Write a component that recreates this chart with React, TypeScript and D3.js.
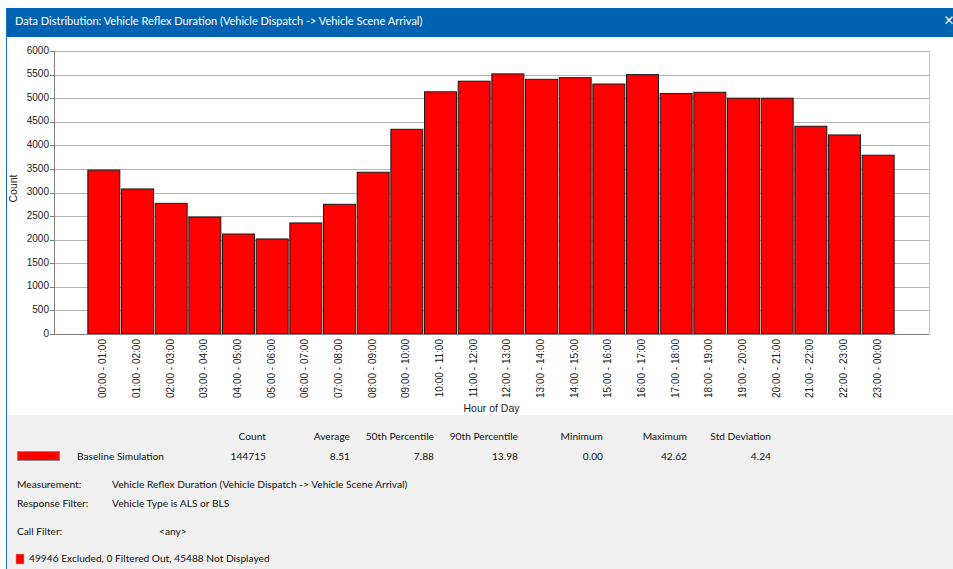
import React from "react";
import * as d3 from "d3";

const hours: string[] = [
  "00:00 - 01:00", "01:00 - 02:00", "02:00 - 03:00", "03:00 - 04:00",
  "04:00 - 05:00", "05:00 - 06:00", "06:00 - 07:00", "07:00 - 08:00",
  "08:00 - 09:00", "09:00 - 10:00", "10:00 - 11:00", "11:00 - 12:00",
  "12:00 - 13:00", "13:00 - 14:00", "14:00 - 15:00", "15:00 - 16:00",
  "16:00 - 17:00", "17:00 - 18:00", "18:00 - 19:00", "19:00 - 20:00",
  "20:00 - 21:00", "21:00 - 22:00", "22:00 - 23:00", "23:00 - 00:00",
];
const counts: number[] = [
  3475, 3075, 2770, 2480, 2120, 2015, 2355, 2750, 3430, 4340, 5135, 5360,
  5515, 5400, 5435, 5300, 5500, 5100, 5125, 5000, 5000, 4405, 4220, 3790,
];
const yTicks: number[] = d3.range(0, 6001, 500);

const statHeaders: string[] = ["Count", "Average", "50th Percentile", "90th Percentile", "Minimum", "Maximum", "Std Deviation"];
const statValues: string[] = ["144715", "8.51", "7.88", "13.98", "0.00", "42.62", "4.24"];
const statRightX: number[] = [266, 350, 434, 518, 603, 687, 771];

const titleText = "Data Distribution: Vehicle Reflex Duration (Vehicle Dispatch -> Vehicle Scene Arrival)";
const seriesName = "Baseline Simulation";
const infoRows: [string, string, number][] = [
  ["Measurement:", "Vehicle Reflex Duration (Vehicle Dispatch -> Vehicle Scene Arrival)", 112],
  ["Response Filter:", "Vehicle Type is ALS or BLS", 112],
  ["Call Filter:", "<any>", 159],
];
const footerText = "49946 Excluded, 0 Filtered Out, 45488 Not Displayed";

const W = 953, H = 569;
const plot = { left: 54, right: 929, top: 51, bottom: 334 };
const uiFont = "Lato, 'Noto Sans', sans-serif";
const axFont = "'Liberation Sans', Arial, sans-serif";
const uiSize = 10.2;

export default function App() {
  const y = d3.scaleLinear().domain([0, 6000]).range([plot.bottom, plot.top]);
  const x = d3
    .scaleBand<string>()
    .domain(hours)
    .range([87, 895])
    .paddingInner(0.05)
    .paddingOuter(0.025);

  const infoY = [485, 504, 532];

  return (
    <svg
      width={W}
      height={H}
      style={{ position: "fixed", left: 0, top: 0, display: "block" }}
    >
      <rect x={0} y={0} width={W} height={H} fill="#ffffff" />
      {/* window frame */}
      <rect x={6} y={8} width={W - 6} height={29} fill="#0063b1" />
      <line x1={6.5} y1={8} x2={6.5} y2={H} stroke="#1a73c0" strokeWidth={1} />
      <text x={15} y={22.5} fill="#ffffff" fontFamily={uiFont} fontSize={11} dominantBaseline="middle">
        {titleText}
      </text>
      <text x={949} y={22} fill="#ffffff" fontFamily={uiFont} fontSize={17} textAnchor="middle" dominantBaseline="middle">
        ×
      </text>

      {/* lower panel */}
      <rect x={7} y={415} width={W - 7} height={H - 415} fill="#f0f0f0" />

      {/* gridlines */}
      {yTicks.map((t) => (
        <line key={"g" + t} x1={plot.left} x2={plot.right} y1={Math.round(y(t)) + 0.5} y2={Math.round(y(t)) + 0.5} stroke="#b4b4b4" strokeWidth={1} />
      ))}
      <line x1={plot.right + 0.5} x2={plot.right + 0.5} y1={plot.top} y2={plot.bottom} stroke="#c8c8c8" />

      {/* bars */}
      {hours.map((h, i) => (
        <rect
          key={h}
          x={x(h)!}
          y={y(counts[i])}
          width={x.bandwidth()}
          height={y(0) - y(counts[i])}
          fill="#ff0000"
          stroke="#1a1a1a"
          strokeWidth={1}
        />
      ))}

      {/* axes */}
      <line x1={plot.left + 0.5} x2={plot.left + 0.5} y1={plot.top} y2={plot.bottom + 1} stroke="#808080" />
      <line x1={plot.left - 4} x2={plot.right} y1={plot.bottom + 0.5} y2={plot.bottom + 0.5} stroke="#808080" />
      {yTicks.map((t) => (
        <g key={"t" + t}>
          <line x1={plot.left - 4} x2={plot.left} y1={Math.round(y(t)) + 0.5} y2={Math.round(y(t)) + 0.5} stroke="#808080" />
          <text x={plot.left - 5} y={y(t)} textAnchor="end" dominantBaseline="middle" fontFamily={axFont} fontSize={10} fill="#222">
            {t}
          </text>
        </g>
      ))}
      {hours.map((h) => (
        <text
          key={"xl" + h}
          transform={`translate(${x(h)! + x.bandwidth() / 2},339) rotate(-90)`}
          textAnchor="end"
          dominantBaseline="middle"
          fontFamily={axFont}
          fontSize={10}
          fill="#222"
        >
          {h}
        </text>
      ))}
      <text
        transform={`translate(14,${(plot.top + plot.bottom) / 2 - 4}) rotate(-90)`}
        textAnchor="middle"
        dominantBaseline="middle"
        fontFamily={axFont}
        fontSize={10.5}
        fill="#222"
      >
        Count
      </text>
      <text x={(plot.left + plot.right) / 2} y={409} textAnchor="middle" dominantBaseline="middle" fontFamily={axFont} fontSize={10.5} fill="#222">
        Hour of Day
      </text>

      {/* stats table */}
      {statHeaders.map((s, i) => (
        <text key={"h" + s} x={statRightX[i]} y={437} textAnchor="end" dominantBaseline="middle" fontFamily={uiFont} fontSize={uiSize} fill="#111">
          {s}
        </text>
      ))}
      {statValues.map((s, i) => (
        <text key={"v" + i} x={statRightX[i]} y={457} textAnchor="end" dominantBaseline="middle" fontFamily={uiFont} fontSize={uiSize} fill="#111">
          {s}
        </text>
      ))}
      <rect x={17.5} y={451.5} width={42} height={9} fill="#ff0000" stroke="#8c8c8c" />
      <text x={77} y={457} dominantBaseline="middle" fontFamily={uiFont} fontSize={uiSize} fill="#111">
        {seriesName}
      </text>
      {infoRows.map((r, i) => (
        <g key={"i" + i}>
          <text x={17} y={infoY[i]} dominantBaseline="middle" fontFamily={uiFont} fontSize={uiSize} fill="#111">
            {r[0]}
          </text>
          <text x={r[2]} y={infoY[i]} dominantBaseline="middle" fontFamily={uiFont} fontSize={uiSize} fill="#111">
            {r[1]}
          </text>
        </g>
      ))}
      <rect x={16} y={554} width={8} height={10} fill="#ff0000" stroke="#b0b0b0" strokeWidth={0.5} />
      <text x={29} y={559.5} dominantBaseline="middle" fontFamily={uiFont} fontSize={uiSize} fill="#111">
        {footerText}
      </text>
    </svg>
  );
}
